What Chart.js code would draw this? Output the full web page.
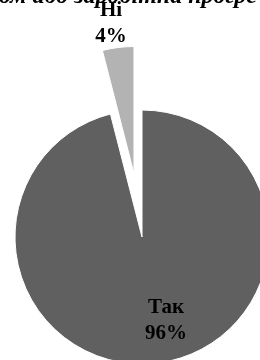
<!DOCTYPE html>
<html>
<head>
<meta charset="utf-8">
<script src="https://cdn.jsdelivr.net/npm/chart.js@4.4.0/dist/chart.umd.min.js"></script>
<style>
    html, body { margin: 0; padding: 0; background: #fff; }
    #wrap { width: 260px; height: 360px; overflow: hidden; }
</style>
</head>
<body>
<div id="wrap"><canvas id="chart" width="260" height="360"></canvas></div>
<script>
// --- data ---
const categories = ['Так', 'Ні'];
const values = [96, 4];
const percentLabels = ['96%', '4%'];
const titleText = 'ом або заробітна прогре';

// --- styles ---
const sliceColors = ['#606060', '#b3b3b3'];
const explodeBy = [0, 64];             // px the slice is pulled out along its mid angle
const labelOffset = [[24, 84], [-23, -150]]; // label centre, from slice apex
const labelFont = 'bold 21px "Liberation Serif", "DejaVu Serif", serif';

// pulls a slice out of the pie without growing its radius (built-in offset does)
const explodePlugin = {
    id: 'explode',
    afterDatasetUpdate(chart, args) {
        args.meta.data.forEach((arc, i) => {
            const d = explodeBy[i];
            if (!d) return;
            const mid = (arc.startAngle + arc.endAngle) / 2;
            arc.x += Math.cos(mid) * d;
            arc.y += Math.sin(mid) * d;
        });
    }
};

const labelPlugin = {
    id: 'sliceLabels',
    afterDatasetsDraw(chart) {
        const ctx = chart.ctx;
        const meta = chart.getDatasetMeta(0);
        ctx.save();
        ctx.font = labelFont;
        ctx.fillStyle = '#000';
        ctx.textAlign = 'center';
        ctx.textBaseline = 'middle';
        meta.data.forEach((arc, i) => {
            const x = arc.x + labelOffset[i][0];
            const y = arc.y + labelOffset[i][1];
            ctx.fillText(categories[i], x, y - 13);
            ctx.fillText(percentLabels[i], x, y + 13);
        });
        ctx.restore();
    }
};

// title is only partly inside the picture (cut off at the top)
const titlePlugin = {
    id: 'cutTitle',
    afterDraw(chart) {
        const ctx = chart.ctx;
        ctx.save();
        ctx.font = 'italic bold 24px "Liberation Serif", "DejaVu Serif", serif';
        ctx.fillStyle = '#000';
        ctx.textAlign = 'center';
        ctx.textBaseline = 'alphabetic';
        ctx.fillText(titleText, 128, 3);
        ctx.restore();
    }
};

new Chart(document.getElementById('chart'), {
    type: 'pie',
    data: {
        labels: categories,
        datasets: [{
            data: values,
            backgroundColor: sliceColors,
            borderColor: '#ffffff',
            borderWidth: 1,
            clip: false
        }]
    },
    options: {
        responsive: false,
        animation: false,
        radius: 127,
        layout: { padding: { left: 24, top: 114, right: 0, bottom: 0 } },
        plugins: {
            legend: { display: false },
            tooltip: { enabled: false },
            title: { display: false }
        }
    },
    plugins: [explodePlugin, labelPlugin, titlePlugin]
});
</script>
</body>
</html>
